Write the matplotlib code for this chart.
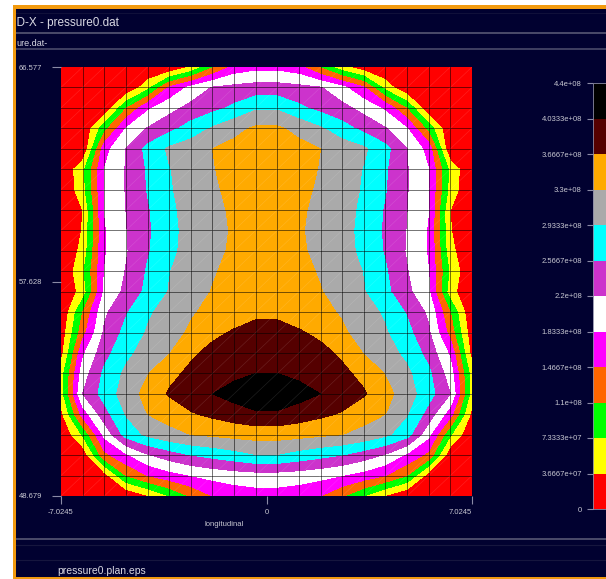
import numpy as np
import matplotlib.pyplot as plt
from matplotlib.patches import Rectangle
from matplotlib.lines import Line2D
from matplotlib.collections import LineCollection

plt.rcParams['font.family'] = ['Liberation Sans', 'DejaVu Sans']

W, H = 606, 579
navy = '#010130'
txt = '#c8c8d2'

# mesh extent
x_min, x_max = -7.0245, 7.0245
y_min, y_max = 48.679, 66.577
nx, ny = 20, 22

# contour levels / colours
cbar_ticks = [0, 3.6667e7, 7.3333e7, 1.1e8, 1.4667e8, 1.8333e8, 2.2e8,
              2.5667e8, 2.9333e8, 3.3e8, 3.6667e8, 4.0333e8, 4.4e8]
cbar_labels = ['0', '3.6667e+07', '7.3333e+07', '1.1e+08', '1.4667e+08',
               '1.8333e+08', '2.2e+08', '2.5667e+08', '2.9333e+08', '3.3e+08',
               '3.6667e+08', '4.0333e+08', '4.4e+08']
band_colors = ['#ff0000', '#ffff00', '#00ff00', '#ff6600', '#ff00ff', '#ffffff',
               '#cc33cc', '#00ffff', '#aaaaaa', '#ffaa00', '#550000', '#000000']

# pressure at mesh nodes, in units of one contour step (4.4e8/12), top row first
dp = 4.4e8 / 12
pressure = [
    [0, 0, 0, 0, 0, 0, 1.05, 2.85, 4.3, 4.65, 4.65, 4.3, 2.85, 1.3, 0.3, 0, 0, 0, 0, 0],
    [0, 0, 0, 0, 1.6, 4.1, 5.25, 6.05, 6.25, 6.4, 6.4, 6.25, 6.05, 5.25, 4.1, 1.6, 0, 0, 0, 0],
    [0, 0, 0.1, 2.9, 4.8, 5.65, 6.3, 6.7, 7.2, 7.85, 7.85, 7.2, 6.7, 6.3, 5.65, 4.8, 2.9, 0.1, 0, 0],
    [0, 0, 2.6, 5.0, 6.05, 6.7, 7.4, 8.1, 8.7, 9.15, 9.15, 8.7, 8.1, 7.4, 6.7, 6.05, 5.0, 2.6, 0, 0],
    [0, 0, 4.6, 6.0, 7.3, 8.15, 8.55, 9.0, 9.3, 9.45, 9.45, 9.3, 9.0, 8.55, 8.15, 7.3, 6.0, 4.6, 0, 0],
    [0, 1.7, 5.0, 6.05, 7.1, 7.95, 8.45, 8.95, 9.3, 9.45, 9.45, 9.3, 8.95, 8.45, 7.95, 7.1, 6.05, 5.0, 1.7, 0],
    [0, 1.6, 5.0, 6.05, 7.05, 7.9, 8.4, 8.85, 9.25, 9.45, 9.45, 9.25, 8.85, 8.4, 7.9, 7.05, 6.05, 5.0, 1.6, 0],
    [0, 1.0, 5.0, 6.0, 6.9, 7.7, 8.5, 8.75, 9.15, 9.4, 9.4, 9.15, 8.75, 8.5, 7.7, 6.9, 6.0, 5.0, 1.0, 0],
    [0, 1.05, 4.9, 5.95, 6.85, 7.65, 8.4, 8.7, 9.1, 9.35, 9.35, 9.1, 8.7, 8.4, 7.65, 6.85, 5.95, 4.9, 1.05, 0],
    [0, 1.3, 4.9, 5.9, 6.9, 7.7, 8.45, 8.75, 9.15, 9.4, 9.4, 9.15, 8.75, 8.45, 7.7, 6.9, 5.9, 4.9, 1.3, 0],
    [0, 1.8, 5.0, 6.05, 7.1, 7.95, 8.6, 8.9, 9.3, 9.5, 9.5, 9.3, 8.9, 8.6, 7.95, 7.1, 6.05, 5.0, 1.8, 0],
    [0, 1.4, 5.15, 6.25, 7.25, 8.05, 8.55, 9.05, 9.35, 9.55, 9.55, 9.35, 9.05, 8.55, 8.05, 7.25, 6.25, 5.15, 1.4, 0],
    [0, 3.0, 5.8, 6.9, 7.85, 8.4, 8.9, 9.25, 9.55, 9.85, 9.85, 9.55, 9.25, 8.9, 8.4, 7.85, 6.9, 5.8, 3.0, 0],
    [0.3, 3.6, 6.15, 7.3, 8.1, 8.6, 9.15, 9.8, 10.1, 10.25, 10.25, 10.1, 9.8, 9.15, 8.6, 8.1, 7.3, 6.15, 3.6, 0.3],
    [0.6, 4.8, 6.65, 7.75, 8.4, 8.95, 9.85, 10.25, 10.45, 10.65, 10.65, 10.45, 10.25, 9.85, 8.95, 8.4, 7.75, 6.65, 4.8, 0.6],
    [1.5, 5.5, 7.2, 8.2, 8.95, 9.75, 10.2, 10.45, 10.75, 11.0, 11.0, 10.75, 10.45, 10.2, 9.75, 8.95, 8.2, 7.2, 5.5, 1.5],
    [1.5, 6.0, 7.4, 8.45, 9.35, 10.1, 10.55, 11.0, 11.4, 11.85, 11.85, 11.4, 11.0, 10.55, 10.1, 9.35, 8.45, 7.4, 6.0, 1.5],
    [0.7, 4.4, 6.6, 8.05, 9.0, 9.35, 9.9, 10.2, 10.5, 10.8, 10.8, 10.5, 10.2, 9.9, 9.35, 9.0, 8.05, 6.6, 4.4, 0.7],
    [0, 2.1, 5.25, 7.4, 8.2, 8.7, 9.0, 9.15, 9.3, 9.4, 9.4, 9.3, 9.15, 9.0, 8.7, 8.2, 7.4, 5.25, 2.1, 0],
    [0, 0.2, 3.7, 4.8, 5.9, 6.5, 7.0, 7.3, 7.6, 7.95, 7.95, 7.6, 7.3, 7.0, 6.5, 5.9, 4.8, 3.7, 0.2, 0],
    [0, 0, 0.5, 3.0, 4.0, 4.6, 5.0, 5.3, 5.5, 5.6, 5.6, 5.5, 5.3, 5.0, 4.6, 4.0, 3.0, 0.5, 0, 0],
    [0, 0, 0, 0, 0.9, 2.0, 3.1, 4.0, 4.35, 4.55, 4.55, 4.35, 4.0, 3.1, 2.0, 0.9, 0, 0, 0, 0],
]

xs = np.linspace(x_min, x_max, nx)
ys = np.linspace(y_min, y_max, ny)
X, Y = np.meshgrid(xs, ys)
Z = np.array(pressure)[::-1] * dp


def fx(px):
    return px / W


def fy(py):
    return 1 - py / H


fig = plt.figure(figsize=(W / 100, H / 100), dpi=100, facecolor=navy)

ax = fig.add_axes([fx(61), fy(496), 411 / W, 429 / H])
ax.set_facecolor(navy)
cf = ax.contourf(X, Y, Z, levels=cbar_ticks, colors=band_colors)

# mesh lines + faint triangle diagonals
for xv in xs[1:-1]:
    ax.axvline(xv, color='black', lw=0.7, alpha=0.55)
for yv in ys[1:-1]:
    ax.axhline(yv, color='black', lw=0.7, alpha=0.55)
segs = [[(xs[i], ys[j]), (xs[i + 1], ys[j + 1])]
        for i in range(nx - 1) for j in range(ny - 1)]
ax.add_collection(LineCollection(segs, colors='white', linewidths=0.5, alpha=0.12))

ax.set_xlim(x_min, x_max)
ax.set_ylim(y_min, y_max)
for s in ax.spines.values():
    s.set_visible(False)

ax.set_xticks([x_min, 0, x_max], labels=['-7.0245', '0', '7.0245'])
ax.set_yticks([y_min, (y_min + y_max) / 2, y_max], labels=['48.679', '57.628', '66.577'])
ax.tick_params(axis='x', colors='#8a8aa6', labelcolor=txt, labelsize=5.5,
               length=5.5, width=0.8, pad=4)
ax.tick_params(axis='y', colors='#8a8aa6', labelcolor=txt, labelsize=5.5,
               length=6.5, width=0.8, pad=7)
ax.get_xticklabels()[2].set_ha('right')
ax.set_xlabel('longitudinal', fontsize=5.5, color=txt, va='center')
ax.xaxis.set_label_coords((224 - 61) / 411, -(524 - 496) / 429)

# colour bar, runs off the right edge
cax = fig.add_axes([fx(593), fy(509), 0.05, 426 / H])
cb = fig.colorbar(cf, cax=cax, ticks=cbar_ticks)
cax.yaxis.set_ticks_position('left')
cax.set_yticklabels(cbar_labels)
cax.tick_params(colors='#8a8aa6', labelcolor=txt, labelsize=5.5, length=4, width=0.8, pad=4)
cb.outline.set_edgecolor('#8a8aa6')
cb.outline.set_linewidth(0.6)

# window text
fig.text(fx(10), fy(23), '3D-X - pressure0.dat', fontsize=8.5, color='#d8d8e2', va='center')
fig.text(fx(16.5), fy(43), 'ure.dat-', fontsize=6.5, color='#d8d8e2', va='center')
fig.text(fx(57), fy(571), 'pressure0.plan.eps', fontsize=7.5, color='#d8d8e2', va='center')

# separators
for py, c, lw in [(13, '#10103a', 0.8), (33, '#4a4a6a', 1.4), (49, '#4a4a6a', 1.2),
                  (539, '#4a4a6a', 1.4), (545, '#16163e', 0.8), (560, '#16163e', 0.8)]:
    fig.add_artist(Line2D([fx(16), 1], [fy(py), fy(py)], color=c, lw=lw, zorder=5))

# window frame
frame = [
    (0, 0, W, 5, 'white'),
    (0, 0, 12.5, H, 'white'),
    (12.5, 5, W, 4.2, '#f29a0e'),
    (12.5, 5, 3.7, H, '#f29a0e'),
    (12.5, 576.5, W, 3, '#f29a0e'),
]
for x0, y0, w, h, c in frame:
    fig.add_artist(Rectangle((fx(x0), fy(y0 + h)), w / W, h / H, facecolor=c,
                             edgecolor='none', transform=fig.transFigure, zorder=10))

fig.savefig('out.png', dpi=100, facecolor=navy)
